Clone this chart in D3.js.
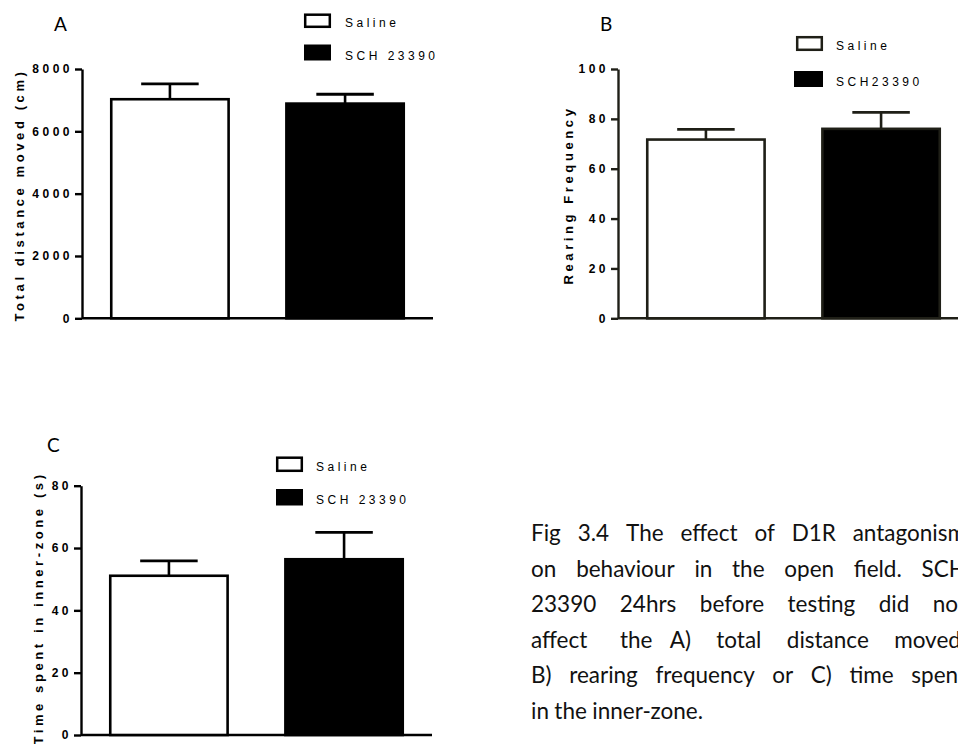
<!DOCTYPE html>
<html><head><meta charset="utf-8">
<script src="https://cdn.jsdelivr.net/npm/d3@7"></script>
<style>body{margin:0;background:#fff;overflow:hidden} svg{display:block}</style>
</head><body>
<svg id="c" width="958" height="744"></svg>
<script>
// ---- data ----
const groups = ["Saline", "SCH 23390"];
const distanceMean = [7030, 6890];
const distanceSem = [490, 300];
const rearingMean = [71.7, 76.0];
const rearingSem = [4.1, 6.6];
const innerMean = [51.1, 56.4];
const innerSem = [4.8, 8.6];
const distanceTicks = [0, 2000, 4000, 6000, 8000];
const rearingTicks = [0, 20, 40, 60, 80, 100];
const innerTicks = [0, 20, 40, 60, 80];
const legendA = ["Saline", "SCH 23390"];
const legendB = ["Saline", "SCH23390"];
const legendC = ["Saline", "SCH 23390"];
const captionLines = [
  "Fig 3.4 The effect of D1R antagonism",
  "on behaviour in the open field.  SCH",
  "23390 24hrs before testing did not",
  "affect the A) total distance moved,",
  "B) rearing frequency or C) time spent",
  "in the inner-zone."
];

const svg = d3.select("#c");
const prism = "'Liberation Sans', Arial, sans-serif";
const doc = "Lato, 'Open Sans', sans-serif";

function panel(cfg) {
  const g = svg.append("g");
  const ink = cfg.ink;
  const x = d3.scaleBand().domain(groups).range([cfg.left, cfg.left + 351])
    .paddingInner(0.33).paddingOuter(0.167);
  const y = d3.scaleLinear().domain([0, cfg.max]).range([cfg.bottom, cfg.top]);

  const ya = g.append("g").attr("transform", `translate(${cfg.left},0)`)
    .call(d3.axisLeft(y).tickValues(cfg.ticks).tickSize(7).tickSizeOuter(0).tickPadding(2).tickFormat(d3.format("d")));
  ya.select(".domain").attr("stroke", ink).attr("stroke-width", 2.4);
  ya.selectAll(".tick line").attr("stroke", ink).attr("stroke-width", 2.4);
  ya.selectAll(".tick text").attr("fill", "#000").style("font-family", prism)
    .style("font-size", "12px").style("font-weight", "bold").style("letter-spacing", "3.5px");

  // x axis baseline
  g.append("line").attr("x1", cfg.left).attr("x2", cfg.left + 351)
    .attr("y1", y(0)).attr("y2", y(0)).attr("stroke", ink).attr("stroke-width", 2.6);

  const data = groups.map((k, i) => ({k, i, m: cfg.mean[i], s: cfg.sem[i]}));
  const cw = x.bandwidth() * 0.49;
  // error bars (upper only)
  g.selectAll(".ev").data(data).join("line")
    .attr("x1", d => x(d.k) + x.bandwidth() / 2).attr("x2", d => x(d.k) + x.bandwidth() / 2)
    .attr("y1", d => y(d.m)).attr("y2", d => y(d.m + d.s))
    .attr("stroke", ink).attr("stroke-width", 2.6);
  g.selectAll(".ec").data(data).join("line")
    .attr("x1", d => x(d.k) + x.bandwidth() / 2 - cw / 2).attr("x2", d => x(d.k) + x.bandwidth() / 2 + cw / 2)
    .attr("y1", d => y(d.m + d.s)).attr("y2", d => y(d.m + d.s))
    .attr("stroke", ink).attr("stroke-width", 2.8);
  // bars
  g.selectAll(".bar").data(data).join("rect")
    .attr("x", d => x(d.k)).attr("width", x.bandwidth())
    .attr("y", d => y(d.m)).attr("height", d => y(0) - y(d.m))
    .attr("fill", d => d.i === 0 ? "#fff" : "#000")
    .attr("stroke", ink).attr("stroke-width", 2.6);

  // y title
  g.append("text").attr("transform", `translate(${cfg.titleX},${cfg.titleY}) rotate(-90)`)
    .attr("text-anchor", "middle").style("font-family", prism).style("font-size", "13px")
    .style("font-weight", "bold").style("letter-spacing", "3.6px").text(cfg.title);

  // panel label
  g.append("text").attr("x", cfg.labelX).attr("y", cfg.labelY)
    .style("font-family", doc).style("font-size", "19px").text(cfg.label);

  // legend
  const L = cfg.legend;
  g.append("rect").attr("x", L.x + 1.2).attr("y", L.y1 + 1.2).attr("width", L.w - 2.4).attr("height", L.h1 - 2.4)
    .attr("fill", "#fff").attr("stroke", ink).attr("stroke-width", 2.5);
  g.append("rect").attr("x", L.x2 !== undefined ? L.x2 : L.x).attr("y", L.y2)
    .attr("width", L.w2 !== undefined ? L.w2 : L.w).attr("height", L.h2).attr("fill", "#000");
  const names = cfg.legendNames;
  [L.t1, L.t2].forEach((ty, i) => {
    g.append("text").attr("x", L.tx).attr("y", ty).style("font-family", prism)
      .style("font-size", "12px").style("letter-spacing", "3.5px").text(names[i]);
  });
}

panel({
  left: 82, top: 69, bottom: 318.3, max: 8000, ticks: distanceTicks,
  mean: distanceMean, sem: distanceSem, ink: "#000",
  title: "Total distance moved (cm)", titleX: 24, titleY: 195,
  label: "A", labelX: 54, labelY: 31,
  legendNames: legendA,
  legend: {x: 304, w: 27, y1: 13.5, h1: 14.5, y2: 44.5, h2: 16, tx: 345, t1: 26.5, t2: 59.5}
});
panel({
  left: 618, top: 69, bottom: 318.3, max: 100, ticks: rearingTicks,
  mean: rearingMean, sem: rearingSem, ink: "#1f1f17",
  title: "Rearing Frequency", titleX: 573, titleY: 195,
  label: "B", labelX: 600, labelY: 31,
  legendNames: legendB,
  legend: {x: 796, w: 27, x2: 794, w2: 29, y1: 36, h1: 15, y2: 71, h2: 16, tx: 836, t1: 50, t2: 86}
});
panel({
  left: 81, top: 485.7, bottom: 735, max: 80, ticks: innerTicks,
  mean: innerMean, sem: innerSem, ink: "#000",
  title: "Time spent in inner-zone (s)", titleX: 43, titleY: 608,
  label: "C", labelX: 47, labelY: 452,
  legendNames: legendC,
  legend: {x: 276, w: 27, y1: 456.5, h1: 15.5, y2: 489, h2: 16.5, tx: 316, t1: 471, t2: 504}
});

// caption, justified (last line left-aligned)
const capLeft = 531, capRight = 966, capTop = 541, capLead = 35.5;
const cap = svg.append("g").style("font-family", doc).style("font-size", "22.5px").attr("fill", "#111");
captionLines.forEach((line, li) => {
  const words = line.split(/\s+/);
  const t = cap.append("text").attr("y", capTop + li * capLead);
  const spans = words.map(w => t.append("tspan").text(w));
  const widths = spans.map(s => s.node().getComputedTextLength());
  const total = d3.sum(widths);
  const last = li === captionLines.length - 1;
  const gap = last ? 5.5 : (capRight - capLeft - total) / (words.length - 1);
  let cx = capLeft;
  spans.forEach((s, i) => { s.attr("x", cx); cx += widths[i] + gap; });
});
</script>
</body></html>
